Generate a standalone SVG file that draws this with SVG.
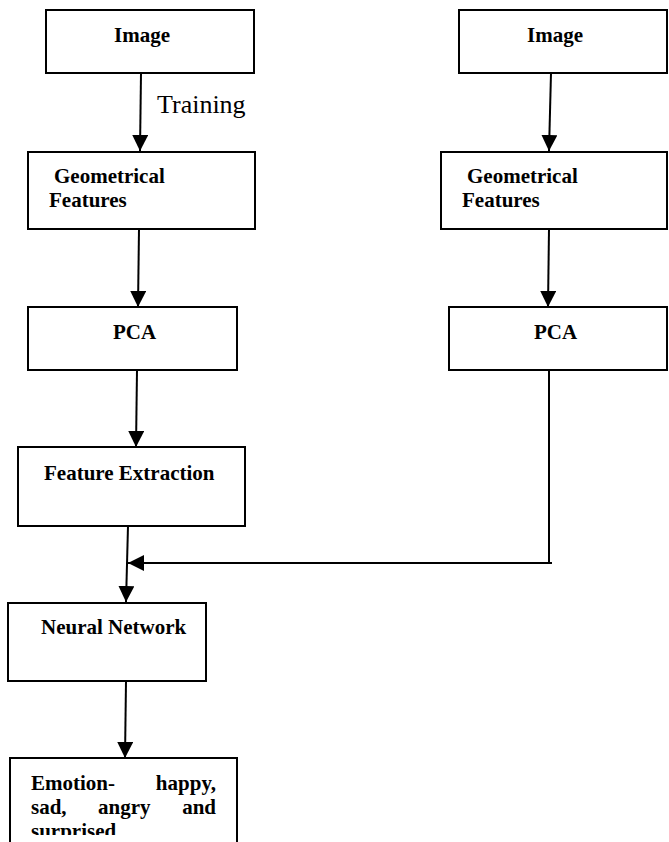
<svg xmlns="http://www.w3.org/2000/svg" width="669" height="842" viewBox="0 0 669 842">
<style>
.box{fill:#fff;stroke:#000;stroke-width:2}
.lbl{font-family:"Liberation Serif","Times New Roman",serif;font-weight:bold;font-size:21px;fill:#000}
.reg{font-family:"Liberation Serif","Times New Roman",serif;font-size:26px;fill:#000}
.conn{fill:none;stroke:#000;stroke-width:2}
</style>
<defs>
<marker id="ah" markerUnits="userSpaceOnUse" markerWidth="16" markerHeight="16" viewBox="0 0 14 14" refX="14" refY="7" orient="auto">
<path d="M0,0 L14,7 L0,14 Z" fill="#000"/>
</marker>
<clipPath id="clipE"><rect x="0" y="0" width="669" height="835"/></clipPath>
</defs>
<rect width="669" height="842" fill="#fff"/>
<g id="connectors">
<line class="conn" x1="141" y1="73" x2="140" y2="151" marker-end="url(#ah)"/>
<line class="conn" x1="551" y1="73" x2="549" y2="151" marker-end="url(#ah)"/>
<line class="conn" x1="139" y1="229" x2="138" y2="307" marker-end="url(#ah)"/>
<line class="conn" x1="549" y1="229" x2="548" y2="307" marker-end="url(#ah)"/>
<line class="conn" x1="137" y1="370" x2="136" y2="447" marker-end="url(#ah)"/>
<path class="conn" d="M549,370 V563 H128" marker-end="url(#ah)"/>
<line class="conn" x1="549" y1="563" x2="552" y2="563"/>
<line class="conn" x1="128" y1="526" x2="126" y2="602" marker-end="url(#ah)"/>
<line class="conn" x1="126" y1="681" x2="125" y2="758" marker-end="url(#ah)"/>
<text class="reg" x="157" y="113">Training</text>
</g>
<g id="image-left">
<rect class="box" x="46" y="10" width="208" height="63"/>
<text class="lbl" x="114" y="42">Image</text>
</g>
<g id="image-right">
<rect class="box" x="459" y="10" width="208" height="63"/>
<text class="lbl" x="527" y="42">Image</text>
</g>
<g id="geom-left">
<rect class="box" x="28" y="152" width="227" height="77"/>
<text class="lbl" x="54" y="183">Geometrical</text>
<text class="lbl" x="49" y="207">Features</text>
</g>
<g id="geom-right">
<rect class="box" x="441" y="152" width="226" height="77"/>
<text class="lbl" x="467" y="183">Geometrical</text>
<text class="lbl" x="462" y="207">Features</text>
</g>
<g id="pca-left">
<rect class="box" x="28" y="307" width="209" height="63"/>
<text class="lbl" x="113" y="339">PCA</text>
</g>
<g id="pca-right">
<rect class="box" x="449" y="307" width="218" height="63"/>
<text class="lbl" x="534" y="339">PCA</text>
</g>
<g id="feature-extraction">
<rect class="box" x="18" y="447" width="227" height="79"/>
<text class="lbl" x="44" y="480">Feature Extraction</text>
</g>
<g id="neural-network">
<rect class="box" x="8" y="603" width="198" height="78"/>
<text class="lbl" x="41" y="634">Neural Network</text>
</g>
<g id="emotion">
<rect class="box" x="10" y="758" width="227" height="100"/>
<g clip-path="url(#clipE)">
<text class="lbl" x="31" y="790">Emotion-</text>
<text class="lbl" x="216" y="790" text-anchor="end">happy,</text>
<text class="lbl" x="31" y="814">sad,</text>
<text class="lbl" x="98" y="814">angry</text>
<text class="lbl" x="216" y="814" text-anchor="end">and</text>
<text class="lbl" x="31" y="838">surprised</text>
</g>
</g>
</svg>
